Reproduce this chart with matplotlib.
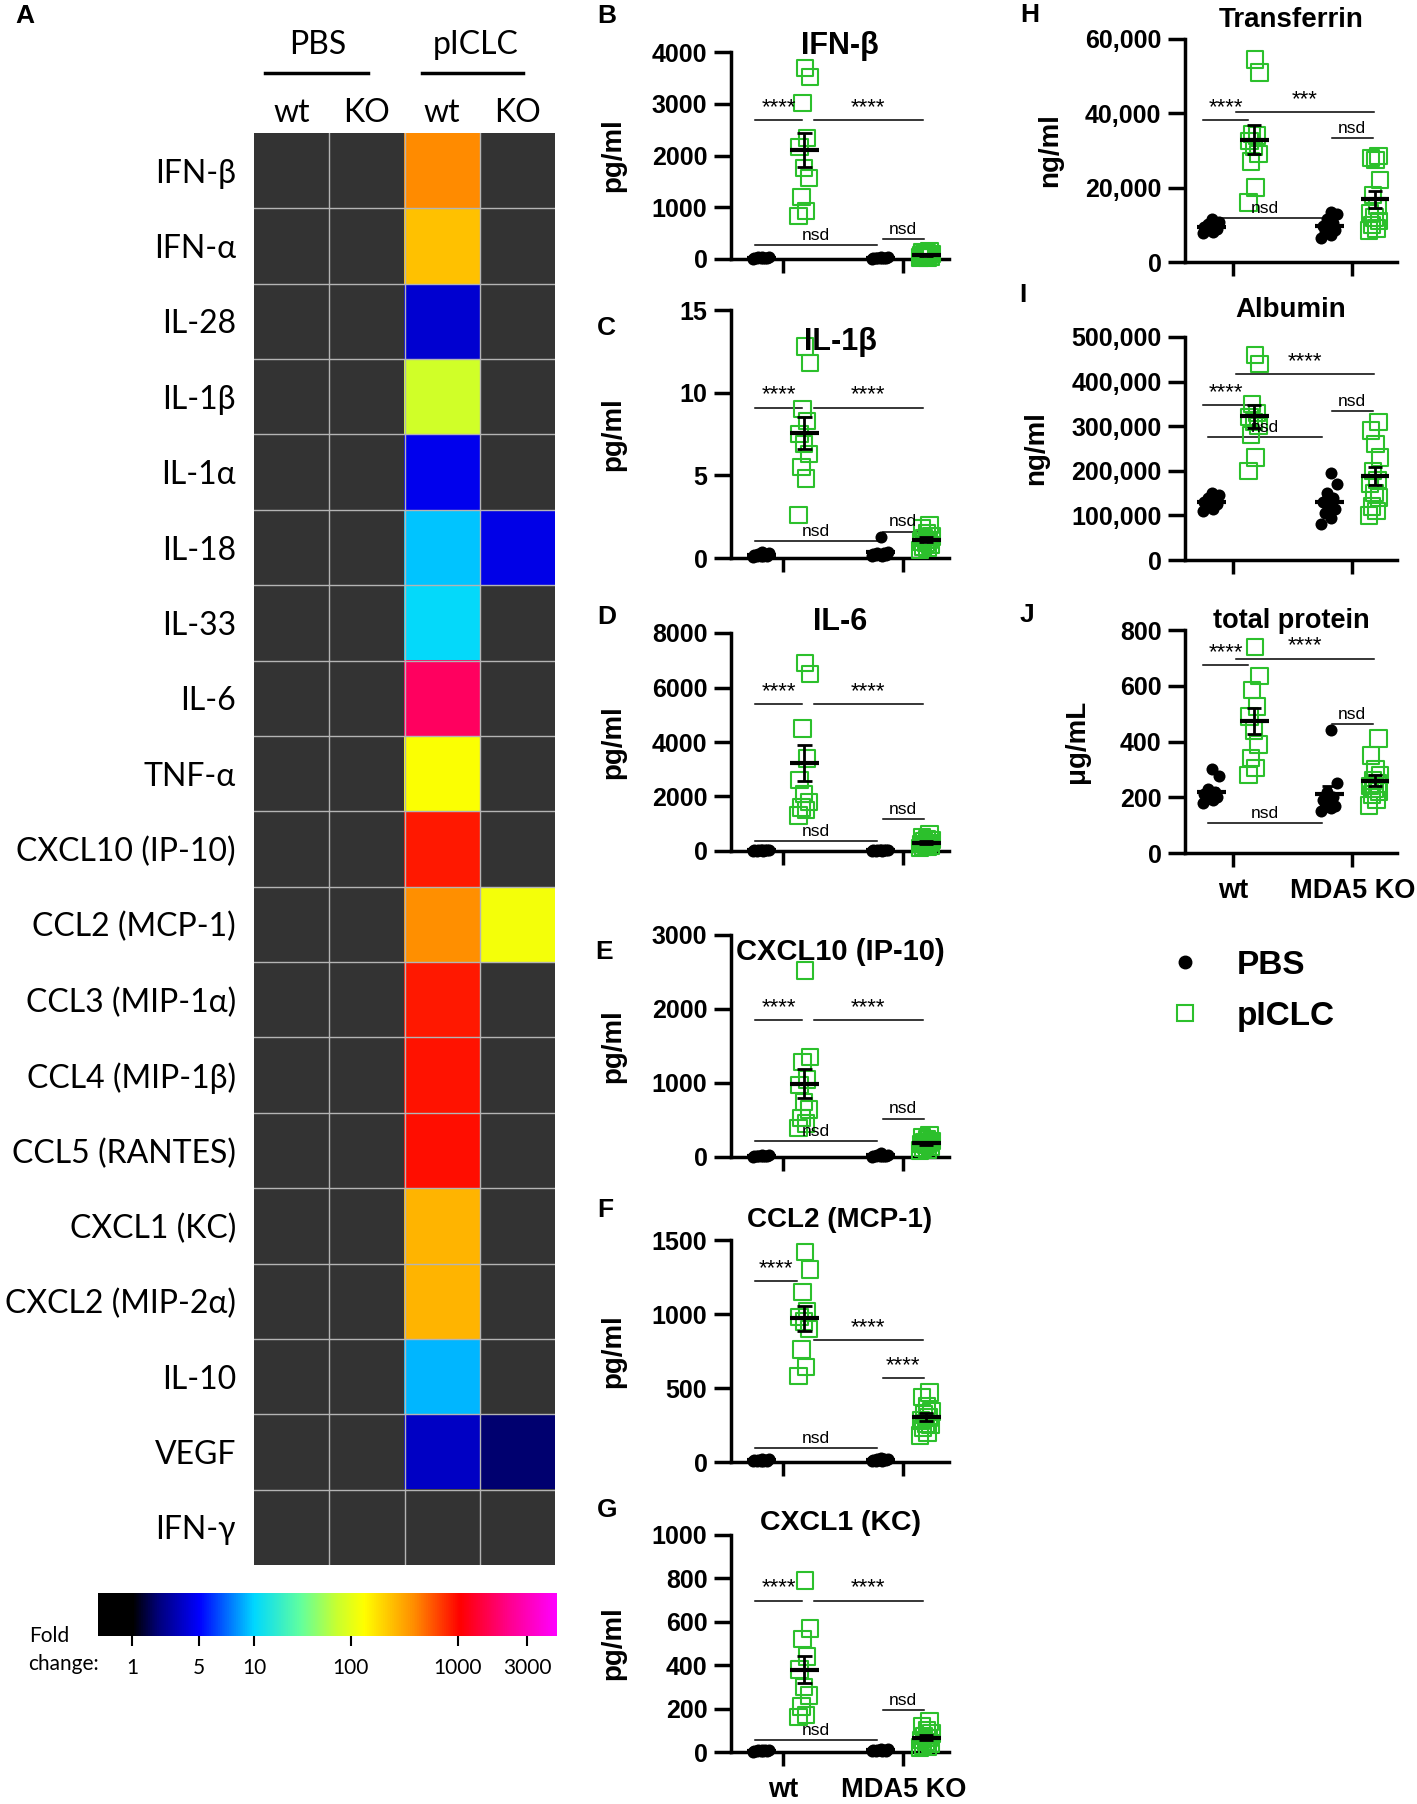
import numpy as np
import matplotlib.pyplot as plt
from matplotlib.colors import LinearSegmentedColormap
from matplotlib.lines import Line2D
from matplotlib.ticker import FuncFormatter

plt.rcParams['font.family'] = ['Liberation Sans', 'DejaVu Sans']
plt.rcParams['font.weight'] = 'bold'
HEAT_FONT = ['Lato', 'DejaVu Sans']
GREEN = '#2cc02c'

# ---------------- panel A: heatmap of fold changes ----------------
cytokines = ['IFN-β', 'IFN-α', 'IL-28', 'IL-1β', 'IL-1α', 'IL-18', 'IL-33', 'IL-6',
             'TNF-α', 'CXCL10 (IP-10)', 'CCL2 (MCP-1)', 'CCL3 (MIP-1α)',
             'CCL4 (MIP-1β)', 'CCL5 (RANTES)', 'CXCL1 (KC)', 'CXCL2 (MIP-2α)',
             'IL-10', 'VEGF', 'IFN-γ']
col_labels = ['wt', 'KO', 'wt', 'KO']
treatments = ['PBS', 'pICLC']
fold_pbs_wt = [1] * 19
fold_pbs_ko = [1] * 19
fold_piclc_wt = [400, 240, 3.6, 80, 4.5, 9.5, 10.5, 1750, 130, 870, 380,
                 900, 920, 950, 270, 270, 9, 3.3, 1]
fold_piclc_ko = [1, 1, 1, 1, 1, 4.3, 1, 1, 1, 1, 120, 1, 1, 1, 1, 1, 1, 1.8, 1]
cbar_ticks = [1, 5, 10, 100, 1000, 3000]

# ---------------- panels B-J: [PBS wt, pICLC wt, PBS KO, pICLC KO] ----------------
ifnb = [[20, 35, 10, 25, 40, 15, 30, 5, 22, 18],
        [3690, 3520, 3010, 2340, 2160, 1760, 1570, 1200, 930, 830],
        [15, 30, 10, 25, 20, 5, 35, 12, 18, 28],
        [150, 130, 110, 95, 85, 75, 65, 55, 45, 40, 30, 25]]
il1b = [[0.1, 0.2, 0.15, 0.3, 0.05, 0.25, 0.1, 0.2, 0.35, 0.15],
        [12.8, 11.8, 9.0, 8.3, 7.5, 6.9, 6.3, 5.5, 4.8, 2.6],
        [1.3, 0.3, 0.2, 0.25, 0.15, 0.3, 0.2, 0.1, 0.35, 0.2],
        [2.0, 1.8, 1.5, 1.3, 1.2, 1.1, 1.0, 0.9, 0.8, 0.7, 0.6, 0.5]]
il6 = [[20, 40, 10, 30, 50, 15, 25, 35, 20, 10],
       [6900, 6500, 4500, 3400, 2600, 2100, 1800, 1600, 1500, 1300],
       [15, 30, 20, 40, 10, 25, 35, 15, 20, 30],
       [600, 520, 450, 400, 350, 300, 260, 220, 200, 170, 140, 110]]
cxcl10 = [[10, 20, 5, 15, 25, 8, 12, 18, 22, 10],
          [2520, 1350, 1280, 1050, 970, 740, 640, 530, 450, 390],
          [60, 20, 10, 15, 25, 5, 12, 18, 30, 8],
          [300, 270, 240, 220, 200, 190, 175, 160, 140, 120, 100, 85]]
ccl2 = [[10, 15, 5, 20, 8, 12, 18, 10, 6, 14],
        [1420, 1300, 1150, 1020, 980, 950, 900, 760, 640, 580],
        [12, 20, 8, 15, 25, 10, 18, 6, 14, 22],
        [470, 440, 380, 340, 320, 300, 280, 260, 250, 230, 200, 180]]
cxcl1 = [[5, 8, 3, 10, 6, 4, 7, 9, 2, 5],
         [790, 570, 520, 440, 380, 300, 260, 210, 170, 160],
         [6, 10, 4, 12, 8, 5, 15, 3, 7, 9],
         [140, 120, 100, 85, 75, 65, 55, 45, 40, 30, 25, 20]]
transferrin = [[11500, 10800, 10200, 9800, 9500, 9200, 8900, 8600, 8200, 7800],
               [54500, 51000, 34500, 34000, 32500, 31000, 29000, 27000, 20000, 16000],
               [13500, 12800, 11500, 10500, 9800, 9200, 8600, 8000, 7200, 6500],
               [28500, 28000, 27500, 22000, 18000, 15000, 13000, 12000, 11000, 10000, 9000, 8500]]
albumin = [[150000, 145000, 140000, 135000, 130000, 128000, 125000, 120000, 115000, 110000],
           [460000, 440000, 350000, 330000, 320000, 310000, 300000, 280000, 230000, 200000],
           [195000, 170000, 150000, 140000, 130000, 120000, 115000, 105000, 95000, 80000],
           [310000, 290000, 260000, 230000, 200000, 180000, 170000, 150000, 140000, 120000, 110000, 100000]]
total_protein = [[300, 275, 230, 220, 210, 205, 200, 195, 190, 180],
                 [740, 635, 585, 525, 490, 440, 390, 340, 305, 280],
                 [440, 250, 220, 200, 190, 180, 170, 165, 160, 150],
                 [410, 350, 300, 280, 260, 250, 240, 230, 220, 210, 190, 170]]
group_labels = ['wt', 'MDA5 KO']
legend_labels = ['PBS', 'pICLC']

W, H = 1417, 1804
fig = plt.figure(figsize=(W / 100, H / 100), dpi=100)


def px_box(x0, y0, x1, y1):
    return [x0 / W, 1 - y1 / H, (x1 - x0) / W, (y1 - y0) / H]


def px_text(x, y, s, **kw):
    fig.text(x / W, 1 - y / H, s, **kw)


# colour scale: black -> blue -> cyan -> green -> yellow -> orange -> red -> magenta
cmap = LinearSegmentedColormap.from_list('fold', [
    (0.0, '#000000'), (0.075, '#000000'), (0.13, '#00007a'), (0.22, '#0000ff'),
    (0.34, '#00d8ff'), (0.44, '#60ffa0'), (0.52, '#c8ff30'), (0.58, '#ffff00'),
    (0.69, '#ff8c00'), (0.79, '#ff0000'), (0.90, '#ff0090'), (1.0, '#ff00ff')])
cmap.set_bad('#333333')
tick_pos = [0.074, 0.22, 0.34, 0.551, 0.784, 0.935]


def fold_to_pos(f):
    return np.interp(np.log10(f), np.log10(cbar_ticks), tick_pos)


heat = np.array([fold_pbs_wt, fold_pbs_ko, fold_piclc_wt, fold_piclc_ko], float).T
pos = np.ma.masked_where(heat <= 1, fold_to_pos(heat))
nrow = len(cytokines)

axh = fig.add_axes(px_box(254, 133, 555, 1565))
axh.imshow(pos, cmap=cmap, vmin=0, vmax=1, aspect='auto', interpolation='nearest')
for k in range(1, 4):
    axh.plot([k - 0.5, k - 0.5], [-0.5, nrow - 0.5], color='#b4b4b4', lw=1)
for k in range(1, nrow):
    axh.plot([-0.5, 3.5], [k - 0.5, k - 0.5], color='#b4b4b4', lw=1)
axh.set_xticks([])
axh.set_yticks(range(nrow))
axh.set_yticklabels(cytokines, fontsize=23, fontweight='normal', family=HEAT_FONT)
axh.tick_params(axis='y', length=0, pad=13)
for s in axh.spines.values():
    s.set_visible(False)
for j, lab in enumerate(col_labels):
    axh.text(j, -0.77, lab, ha='center', va='center', fontsize=23,
             fontweight='normal', family=HEAT_FONT)
for t, (cx, xa, xb) in enumerate([(0.35, -0.35, 1.01), (2.45, 1.73, 3.07)]):
    axh.text(cx, -1.67, treatments[t], ha='center', va='center', fontsize=23,
             fontweight='normal', family=HEAT_FONT)
    axh.plot([xa, xb], [-1.3, -1.3], color='black', lw=2.5, clip_on=False)
axh.set_xlim(-0.5, 3.5)
axh.set_ylim(nrow - 0.5, -0.5)

# colour bar
axc = fig.add_axes(px_box(98, 1593, 557, 1636))
axc.imshow(np.linspace(0, 1, 512)[None, :], extent=[0, 1, 0, 1], aspect='auto',
           cmap=cmap, vmin=0, vmax=1)
axc.set_xlim(0, 1)
axc.set_yticks([])
axc.set_xticks(fold_to_pos(cbar_ticks))
axc.set_xticklabels([str(v) for v in cbar_ticks], fontsize=15, fontweight='normal',
                    family=HEAT_FONT)
axc.tick_params(axis='x', length=7, width=1.5, pad=9)
for s in axc.spines.values():
    s.set_visible(False)
px_text(49, 1636, 'Fold', ha='center', va='center', fontsize=15,
        fontweight='normal', family=HEAT_FONT)
px_text(63, 1664, 'change:', ha='center', va='center', fontsize=15,
        fontweight='normal', family=HEAT_FONT)

# ---------------- scatter panels ----------------
xpos = [-0.18, 0.18, 0.81, 1.19]


def spread(vals, w):
    n = len(vals)
    order = np.argsort(vals)
    offs = np.empty(n)
    offs[order] = w * (((np.arange(n) * 0.618) % 1) * 2 - 1)
    return offs


def panel(box, groups, ymax, ystep, title, title_y, ylabel, ylab_x, sigs,
          letter, letter_xy, xlim, commas=False, xlabels=False, title_size=21):
    ax = fig.add_axes(px_box(*box))
    for g, vals in enumerate(groups):
        vals = np.asarray(vals, float)
        xs = xpos[g] + spread(vals, 0.07 if g % 2 == 0 else 0.05)
        if g % 2 == 0:
            ax.scatter(xs, vals, s=75, color='black', zorder=4, clip_on=False,
                       linewidths=0)
        else:
            ax.scatter(xs, vals, s=140, marker='s', facecolors='none',
                       edgecolors=GREEN, linewidths=1.5, zorder=3, clip_on=False)
        m = vals.mean()
        se = vals.std(ddof=1) / np.sqrt(len(vals))
        ax.hlines(m, xpos[g] - 0.12, xpos[g] + 0.12, color='black', lw=3, zorder=6,
                  clip_on=False)
        ax.vlines(xpos[g], m - se, m + se, color='black', lw=2, zorder=6, clip_on=False)
        ax.hlines([m - se, m + se], xpos[g] - 0.06, xpos[g] + 0.06, color='black',
                  lw=2, zorder=6, clip_on=False)
    for x0, x1, y, s in sigs:
        ax.plot([x0, x1], [y, y], color='black', lw=1.1, clip_on=False)
        ax.annotate(s, ((x0 + x1) / 2, y), xytext=(0, 1.5), textcoords='offset points',
                    ha='center', va='bottom', fontsize=16 if s != 'nsd' else 12.5,
                    fontweight='normal')
    ax.set_ylim(0, ymax)
    ax.set_xlim(*xlim)
    ax.set_yticks(np.arange(0, ymax + ystep / 2, ystep))
    if commas:
        ax.yaxis.set_major_formatter(FuncFormatter(lambda v, p: f'{v:,.0f}'))
    else:
        ax.yaxis.set_major_formatter(FuncFormatter(lambda v, p: f'{v:.0f}'))
    ax.set_xticks([0, 1])
    if xlabels:
        ax.set_xticklabels(group_labels, fontsize=19.5)
    else:
        ax.set_xticklabels(['', ''])
    ax.tick_params(axis='y', length=12, width=2.5, labelsize=18, pad=5)
    ax.tick_params(axis='x', length=10, width=2.5, pad=8)
    for side in ['top', 'right']:
        ax.spines[side].set_visible(False)
    for side in ['left', 'bottom']:
        ax.spines[side].set_linewidth(2.5)
    ax.set_ylabel(ylabel, fontsize=20, fontweight='bold')
    ax.yaxis.set_label_coords(ylab_x, 0.5)
    px_text((box[0] + box[2]) / 2, title_y, title, ha='center', va='center',
            fontsize=title_size)
    px_text(letter_xy[0], letter_xy[1], letter, ha='center', va='center', fontsize=19)
    return ax


MID = (-0.43, 1.38)
RGT = (-0.40, 1.375)


def mid_sigs(l, r, n, k, k_txt='nsd', l_span=(-0.23, 0.16)):
    return [(l_span[0], l_span[1], l, '****'), (0.26, 1.16, r, '****'),
            (-0.23, 0.78, n, 'nsd'), (0.83, 1.17, k, k_txt)]


def rgt_sigs(l, r, n, k, r_txt='****'):
    return [(-0.25, 0.13, l, '****'), (0.03, 1.18, r, r_txt),
            (-0.21, 0.75, n, 'nsd'), (0.83, 1.17, k, 'nsd')]


panel((731, 52, 949, 259), ifnb, 4000, 1000, 'IFN-β', 46, 'pg/ml', -0.48,
      mid_sigs(2686, 2686, 270, 390), 'B', (607, 16), MID, title_size=22)
panel((731, 310, 949, 558), il1b, 15, 5, 'IL-1β', 342, 'pg/ml', -0.48,
      mid_sigs(9.1, 9.1, 1.0, 1.6), 'C', (606, 328), MID, title_size=22)
panel((731, 633, 949, 851), il6, 8000, 2000, 'IL-6', 622, 'pg/ml', -0.48,
      mid_sigs(5400, 5400, 370, 1180), 'D', (607, 617), MID, title_size=22)
panel((731, 935, 949, 1157), cxcl10, 3000, 1000, 'CXCL10 (IP-10)', 952, 'pg/ml', -0.48,
      mid_sigs(1850, 1850, 216, 520), 'E', (604, 952), MID)
panel((731, 1240, 949, 1462), ccl2, 1500, 500, 'CCL2 (MCP-1)', 1220, 'pg/ml', -0.48,
      mid_sigs(1223, 824, 95, 568, k_txt='****', l_span=(-0.23, 0.12)),
      'F', (605, 1210), MID, title_size=20)
panel((731, 1535, 949, 1752), cxcl1, 1000, 200, 'CXCL1 (KC)', 1523, 'pg/ml', -0.48,
      mid_sigs(697, 697, 55, 194), 'G', (607, 1510), MID, xlabels=True, title_size=20.5)

panel((1185, 39, 1397, 262), transferrin, 60000, 20000, 'Transferrin', 20, 'ng/ml',
      -0.575, rgt_sigs(38100, 40300, 11800, 33300, r_txt='***'), 'H', (1030, 15),
      RGT, commas=True, title_size=20)
panel((1185, 337, 1397, 560), albumin, 500000, 100000, 'Albumin', 310, 'ng/ml',
      -0.64, rgt_sigs(347000, 416000, 275000, 335000), 'I', (1023, 295),
      RGT, commas=True, title_size=20)
panel((1185, 630, 1397, 853), total_protein, 800, 200, 'total protein', 621, 'μg/mL',
      -0.45, rgt_sigs(675, 697, 108, 463), 'J', (1027, 615), RGT, xlabels=True,
      title_size=19.5)

px_text(25, 16, 'A', ha='center', va='center', fontsize=19)

handles = [Line2D([], [], marker='o', ls='', color='black', ms=9),
           Line2D([], [], marker='s', ls='', mfc='none', mec=GREEN, mew=1.5, ms=11)]
fig.legend(handles, legend_labels, loc='center left',
           bbox_to_anchor=(1168 / W, 1 - 991 / H), frameon=False,
           prop=dict(weight='bold', size=24), handlelength=1.0, handletextpad=1.05,
           labelspacing=0.6, borderpad=0, borderaxespad=0)

fig.savefig('out.png', dpi=100)
